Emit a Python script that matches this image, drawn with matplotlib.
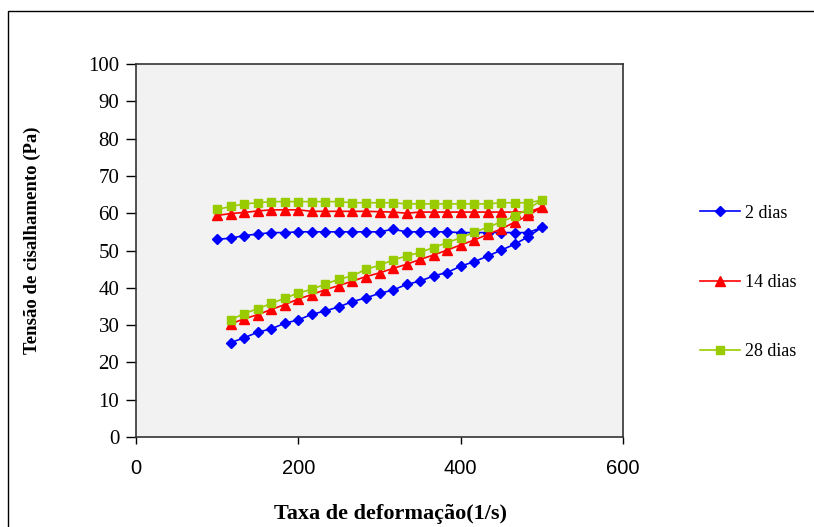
import matplotlib
matplotlib.use("Agg")
from matplotlib import pyplot as plt
from matplotlib.patches import Rectangle

# taxa de deformacao: subida 116.7 -> 500, descida 483.3 -> 100
x_up = [116.7, 133.3, 150.0, 166.7, 183.3, 200.0, 216.7, 233.3, 250.0, 266.7, 283.3, 300.0,
        316.7, 333.3, 350.0, 366.7, 383.3, 400.0, 416.7, 433.3, 450.0, 466.7, 483.3, 500.0]
x_down = [483.3, 466.7, 450.0, 433.3, 416.7, 400.0, 383.3, 366.7, 350.0, 333.3, 316.7, 300.0,
          283.3, 266.7, 250.0, 233.3, 216.7, 200.0, 183.3, 166.7, 150.0, 133.3, 116.7, 100.0]

dias2_up = [25.3, 26.6, 28.1, 29.0, 30.5, 31.4, 32.9, 33.8, 34.9, 36.3, 37.3, 38.5,
            39.4, 40.9, 41.8, 43.2, 44.1, 45.8, 47.0, 48.5, 50.1, 51.7, 53.7, 56.2]
dias2_down = [54.8, 54.8, 54.8, 54.8, 54.8, 54.8, 55.0, 55.0, 55.0, 55.0, 55.7, 55.0,
              55.0, 55.0, 55.0, 55.0, 55.0, 55.0, 54.8, 54.8, 54.4, 54.0, 53.3, 53.0]

dias14_up = [30.3, 31.7, 32.8, 34.2, 35.5, 37.0, 38.2, 39.5, 40.6, 41.8, 43.0, 44.0,
             45.2, 46.3, 47.6, 48.8, 50.1, 51.5, 52.8, 54.3, 55.8, 57.6, 59.4, 61.6]
dias14_down = [60.3, 60.3, 60.3, 60.3, 60.3, 60.3, 60.3, 60.3, 60.3, 60.0, 60.3, 60.4,
               60.5, 60.5, 60.5, 60.5, 60.5, 60.9, 60.9, 60.9, 60.6, 60.2, 59.9, 59.4]

dias28_up = [31.4, 33.1, 34.4, 35.8, 37.2, 38.6, 39.6, 41.0, 42.3, 43.2, 45.0, 46.0,
             47.5, 48.5, 49.5, 50.8, 52.1, 53.4, 54.9, 56.2, 57.7, 59.2, 61.2, 63.5]
dias28_down = [62.8, 62.8, 62.8, 62.5, 62.5, 62.5, 62.5, 62.5, 62.5, 62.5, 62.8, 62.8,
               62.8, 62.8, 63.1, 63.1, 63.1, 63.1, 63.1, 63.1, 62.8, 62.5, 61.8, 61.0]

labels = ['2 dias', '14 dias', '28 dias']

fig = plt.figure(figsize=(8.14, 5.27), dpi=100)
ax = fig.add_axes([136/814, 90/527, 487/814, 373/527])
ax.set_facecolor('#F2F2F2')

x = x_up + x_down
ax.plot(x, dias2_up + dias2_down, color='#0000FF', marker='D', markersize=5,
        linewidth=1.2, label=labels[0])
ax.plot(x, dias14_up + dias14_down, color='#FF0000', marker='^', markersize=6.5,
        linewidth=1.2, label=labels[1])
ax.plot(x, dias28_up + dias28_down, color='#99CC00', marker='s', markersize=5.5,
        linewidth=1.2, label=labels[2])

ax.set_xlim(0, 600)
ax.set_ylim(0, 100)
ax.set_xticks([0, 200, 400, 600])
ax.set_yticks(range(0, 101, 10))
ax.tick_params(axis='x', direction='out', length=5, width=1, pad=11, labelsize=14.5)
ax.tick_params(axis='y', direction='out', length=7, width=1, pad=5, labelsize=15)
for lab in ax.get_xticklabels():
    lab.set_fontfamily('Liberation Sans')
for lab in ax.get_yticklabels():
    lab.set_fontfamily('Liberation Serif')
for s in ax.spines.values():
    s.set_linewidth(1.2)
    s.set_color('#333333')

fig.text(390/814, 1 - 514/527, 'Taxa de deformação(1/s)', family='Liberation Serif',
         fontweight='bold', fontsize=16, ha='center', va='center')
fig.text(32/814, 1 - 240/527, 'Tensão de cisalhamento (Pa)', family='Liberation Serif',
         fontweight='bold', fontsize=13.5, ha='center', va='center', rotation=90)

leg = ax.legend(loc='center left', bbox_to_anchor=(1.125, 0.414), frameon=False,
                prop={'family': 'Liberation Serif', 'size': 13},
                labelspacing=2.9, handlelength=2.2, handletextpad=0.3)

# moldura externa do grafico
fig.patches.append(Rectangle((8/814, -0.1), 1.2, (527-11)/527 + 0.1, transform=fig.transFigure,
                             fill=False, edgecolor='black', linewidth=1.0))

fig.savefig('out.png', dpi=100)
